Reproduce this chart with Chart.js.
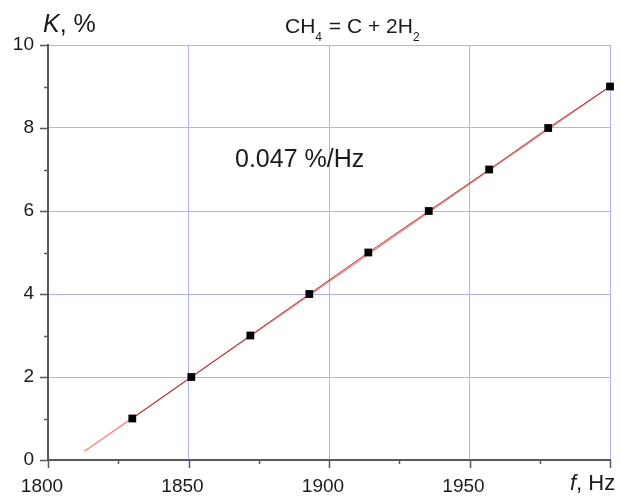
<!DOCTYPE html>
<html>
<head>
<meta charset="utf-8">
<script src="https://cdn.jsdelivr.net/npm/chart.js@4"></script>
<style>
  html, body { margin: 0; padding: 0; background: #fff; }
  #wrap { width: 621px; height: 498px; }
</style>
</head>
<body>
<div id="wrap"><canvas id="chart" width="621" height="498"></canvas></div>
<script>
// measured points: frequency (Hz) vs conversion K (%)
const freq = [1830, 1851, 1872, 1893, 1914, 1935.5, 1957, 1978, 2000];
const conversion = [1, 2, 3, 4, 5, 6, 7, 8, 9];

// linear fit, slope in %/Hz, anchored at the last point
const fitSlope = 0.047;
const fitFreq = [1813, 2000];
const fitAnchor = { f: 2000, k: 9 };

const xTicks = [1800, 1850, 1900, 1950, 2000];
const yTicks = [0, 2, 4, 6, 8, 10];

const FONT = 'Arial, "Liberation Sans", sans-serif';
const TEXT = '#1a1a1a';
const GRID = '#b0b2ff';
const AXIS = '#5a5a5a';

const pts = freq.map((f, i) => ({ x: f, y: conversion[i] }));
const fitPts = fitFreq.map(f => ({ x: f, y: fitAnchor.k + fitSlope * (f - fitAnchor.f) }));

// axis tick marks (major + minor) and the free text labels
const decor = {
    id: 'decor',
    afterDraw(chart) {
        const ctx = chart.ctx;
        const xs = chart.scales.x, ys = chart.scales.y;
        const area = chart.chartArea;
        ctx.save();
        ctx.strokeStyle = AXIS;
        ctx.lineWidth = 1.5;
        ctx.beginPath();
        for (let v = 1800; v <= 2000; v += 25) {
            const px = Math.round(xs.getPixelForValue(v)) + 0.5;
            const len = v % 50 === 0 ? 8 : 4;
            ctx.moveTo(px, area.bottom);
            ctx.lineTo(px, area.bottom + len);
        }
        for (let v = 0; v <= 10; v += 1) {
            const py = Math.round(ys.getPixelForValue(v)) + 0.5;
            const len = v % 2 === 0 ? 8 : 4;
            ctx.moveTo(area.left, py);
            ctx.lineTo(area.left - len, py);
        }
        ctx.stroke();

        ctx.fillStyle = TEXT;
        ctx.textBaseline = 'alphabetic';
        ctx.textAlign = 'left';

        // y axis title
        let x = 43;
        ctx.font = 'italic 25px ' + FONT;
        ctx.fillText('K', x, 32);
        x += ctx.measureText('K').width;
        ctx.font = '25px ' + FONT;
        ctx.fillText(', %', x, 32);

        // reaction
        x = 285;
        const parts = [['CH', 0], ['4', 1], [' = C + 2H', 0], ['2', 1]];
        parts.forEach(([s, sub]) => {
            ctx.font = (sub ? '12px ' : '21px ') + FONT;
            ctx.fillText(s, x, sub ? 41 : 33);
            x += ctx.measureText(s).width + (sub ? 1 : 0);
        });

        // slope annotation
        ctx.font = '25px ' + FONT;
        ctx.fillText(fitSlope.toFixed(3) + ' %/Hz', 235, 167);

        // x axis title
        x = 570;
        ctx.font = 'italic 22px ' + FONT;
        ctx.fillText('f', x, 490);
        x += ctx.measureText('f').width;
        ctx.font = '22px ' + FONT;
        ctx.fillText(', Hz', x, 490);
        ctx.restore();
    }
};

new Chart(document.getElementById('chart'), {
    type: 'scatter',
    data: {
        datasets: [{
            label: 'K',
            data: pts,
            showLine: true,
            borderColor: 'rgba(110, 25, 25, 0.75)',
            borderWidth: 1,
            pointStyle: 'rect',
            pointRadius: 5.5,
            pointBackgroundColor: '#000',
            pointBorderColor: '#000',
            pointBorderWidth: 0,
            clip: false
        }, {
            label: 'fit',
            data: fitPts,
            showLine: true,
            borderColor: '#ff7b7b',
            borderWidth: 1.5,
            pointRadius: 0,
            clip: false
        }]
    },
    options: {
        responsive: false,
        animation: false,
        events: [],
        layout: { padding: { top: 45, right: 11, left: 0, bottom: 0 } },
        plugins: { legend: { display: false }, tooltip: { enabled: false } },
        scales: {
            x: {
                type: 'linear',
                min: 1800, max: 2000,
                afterBuildTicks: s => { s.ticks = xTicks.map(v => ({ value: v })); },
                afterFit: s => { s.height = 38; s.paddingLeft = 0; s.paddingRight = 0; },
                ticks: {
                    font: { size: 19, family: FONT }, color: TEXT, padding: 15,
                    labelOffset: -6, maxRotation: 0, autoSkip: false,
                    callback: v => v === 2000 ? '' : String(v)
                },
                grid: {
                    drawTicks: false,
                    color: c => (c.tick && c.tick.value === 1800) ? 'rgba(0,0,0,0)' : GRID,
                    lineWidth: 1
                },
                border: { display: true, color: AXIS, width: 2 }
            },
            y: {
                min: 0, max: 10,
                afterBuildTicks: s => { s.ticks = yTicks.map(v => ({ value: v })); },
                afterFit: s => { s.width = 48; s.paddingTop = 0; s.paddingBottom = 0; },
                ticks: {
                    font: { size: 19, family: FONT }, color: TEXT, padding: 14,
                    autoSkip: false,
                    callback: v => String(v)
                },
                grid: {
                    drawTicks: false,
                    color: c => (c.tick && c.tick.value === 0) ? 'rgba(0,0,0,0)' : GRID,
                    lineWidth: 1
                },
                border: { display: true, color: AXIS, width: 2 }
            }
        }
    },
    plugins: [decor]
});
</script>
</body>
</html>
